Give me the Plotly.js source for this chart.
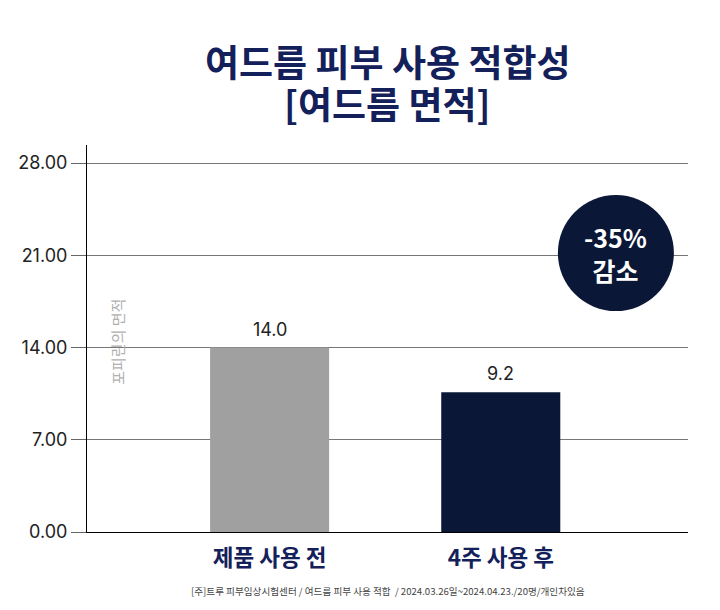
<!DOCTYPE html>
<html>
<head>
<meta charset="utf-8">
<script src="https://cdn.plot.ly/plotly-3.0.1.min.js"></script>
<style>
  html, body { margin: 0; padding: 0; background: #fff; }
  #chart { width: 720px; height: 610px; }
</style>
</head>
<body>
<div id="chart"></div>
<script>
// data
const categories = ['제품 사용 전', '4주 사용 후'];
const barHeights = [14.0, 10.6];        // drawn bar heights
const valueLabels = ['14.0', '9.2'];     // labels printed above the bars
const barColors = ['#a0a0a0', '#0a1736'];
const yTicks = [0, 7, 14, 21, 28];
const titleLines = ['여드름 피부 사용 적합성', '[여드름 면적]'];
const badgeLines = ['-35%', '감소'];
const yLabel = '포피린의 면적';
const footnote = '[주]트루 피부임상시험센터 / 여드름 피부 사용 적합  / 2024.03.26일~2024.04.23./20명/개인차있음';

const FONT = 'Inter, "Noto Sans CJK KR", sans-serif';
const KFONT = '"Noto Sans CJK KR", Inter, sans-serif';
const NAVY = '#14205a';

const trace = {
  type: 'bar',
  x: [0, 1],
  y: barHeights,
  width: 0.515,
  marker: { color: barColors, line: { width: 0 } },
  hoverinfo: 'skip'
};

const valueNotes = valueLabels.map((t, i) => ({
  x: i, y: barHeights[i], xref: 'x', yref: 'y',
  text: t, showarrow: false, yanchor: 'bottom', yshift: 6,
  font: { family: FONT, size: 18, color: '#222' }
}));

// title lines placed one by one (paper y from the plot area)
const titleNotes = titleLines.map((t, i) => ({
  x: 0.5, y: [1.217, 1.109][i], xref: 'paper', yref: 'paper',
  xanchor: 'center', yanchor: 'middle',
  text: '<b>' + t + '</b>', showarrow: false,
  font: { family: KFONT, size: 37, color: NAVY }
}));

const layout = {
  width: 720, height: 610,
  paper_bgcolor: '#fff', plot_bgcolor: '#fff',
  margin: { l: 87, r: 32, t: 145, b: 78 },
  showlegend: false,
  xaxis: {
    range: [-0.79, 1.81],
    tickvals: [0, 1],
    ticktext: categories.map(c => '<b>' + c + '</b>'),
    tickfont: { family: KFONT, size: 22.5, color: NAVY },
    ticklabelstandoff: 6,
    showgrid: false, zeroline: false,
    showline: true, linecolor: '#000', linewidth: 1,
    ticks: '', fixedrange: true
  },
  yaxis: {
    range: [0, 29.37],
    tickvals: yTicks,
    tickformat: '.2f',
    tickfont: { family: FONT, size: 18, color: '#222' },
    ticks: 'outside', ticklen: 15, tickcolor: '#666', tickwidth: 1,
    showgrid: true, gridcolor: '#777', gridwidth: 1,
    zeroline: false,
    showline: true, linecolor: '#000', linewidth: 1,
    fixedrange: true
  },
  shapes: [{
    type: 'circle', xref: 'x', yref: 'y',
    xsizemode: 'pixel', ysizemode: 'pixel',
    xanchor: 1.498, yanchor: 21.17,
    x0: -58, x1: 58, y0: -58, y1: 58,
    fillcolor: '#0a1736', line: { width: 0 }
  }],
  annotations: valueNotes.concat(titleNotes, [
    {
      x: 1.498, y: 21.17, xref: 'x', yref: 'y',
      text: '<b>' + badgeLines.join('<br>') + '</b>', showarrow: false,
      font: { family: KFONT, size: 25, color: '#fff' }
    },
    {
      x: -0.658, y: 14.4, xref: 'x', yref: 'y',
      text: yLabel, textangle: -90, showarrow: false,
      font: { family: KFONT, size: 15, color: '#b0b0b0' }
    },
    {
      x: 0.5, y: -0.152, xref: 'paper', yref: 'paper', yanchor: 'middle',
      text: footnote, showarrow: false,
      font: { family: KFONT, size: 9.6, color: '#444' }
    }
  ])
};

Plotly.newPlot('chart', [trace], layout, { displayModeBar: false, staticPlot: true });
</script>
</body>
</html>
